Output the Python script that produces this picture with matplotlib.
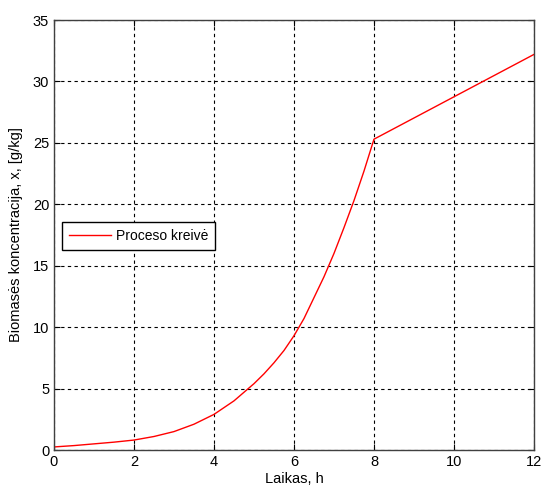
import matplotlib
matplotlib.use('Agg')
import matplotlib.pyplot as plt

# Laikas (h) ir biomasės koncentracija (g/kg), nuskaityta nuo grafiko
laikas = [0, 0.5, 1, 1.5, 2, 2.5, 3, 3.5, 4, 4.5, 5, 5.25, 5.5, 5.75, 6, 6.25, 6.5, 6.75,
          7, 7.25, 7.5, 7.75, 8, 10, 12]
biomase = [0.25, 0.36, 0.5, 0.64, 0.81, 1.1, 1.5, 2.1, 2.9, 4.0, 5.4, 6.2, 7.1, 8.1, 9.3, 10.7,
           12.4, 14.1, 16.0, 18.1, 20.3, 22.7, 25.3, 28.75, 32.2]

x_ticks = [0, 2, 4, 6, 8, 10, 12]
y_ticks = [0, 5, 10, 15, 20, 25, 30, 35]

plt.rcParams['font.family'] = ['Liberation Sans', 'DejaVu Sans']
plt.rcParams['font.size'] = 10

fig = plt.figure(figsize=(5.41, 4.93), dpi=100)
ax = fig.add_axes([0.0998, 0.0872, 0.8872, 0.8722])

ax.plot(laikas, biomase, color='red', linewidth=1.0, label='Proceso kreivė')

ax.set_xlim(0, 12)
ax.set_ylim(0, 35)
ax.set_xticks(x_ticks)
ax.set_yticks(y_ticks)
ax.grid(True, color='black', linestyle=(0, (3, 3)), linewidth=0.8)
ax.tick_params(direction='in', top=True, right=True, length=4, width=0.8, labelsize=10.5)
for s in ax.spines.values():
    s.set_color('#404040')
    s.set_linewidth(1.0)

ax.set_xlabel('Laikas, h', labelpad=2, fontsize=10.5)
ax.set_ylabel('Biomasės koncentracija, x, [g/kg]', labelpad=7, fontsize=10.5)

leg = ax.legend(loc='lower left', bbox_to_anchor=(0.0167, 0.465), fancybox=False,
                framealpha=1, edgecolor='black', handlelength=3.0, borderaxespad=0,
                borderpad=0.5, handletextpad=0.4)
leg.get_frame().set_linewidth(1.0)

plt.savefig('out.png', dpi=100)
